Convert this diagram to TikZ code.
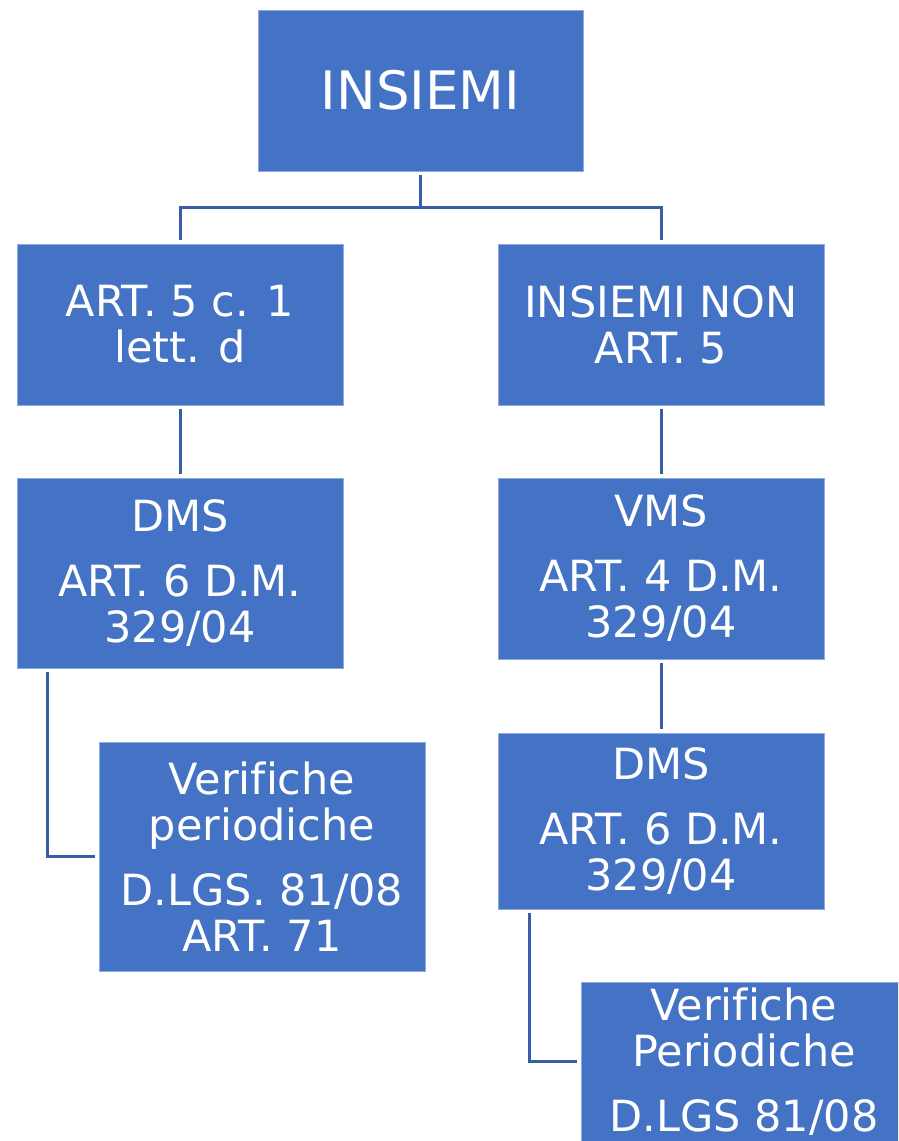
\documentclass[tikz,border=0pt]{standalone}
\usepackage{fontspec}
\setmainfont[Ligatures=NoCommon]{DejaVu Sans}
\definecolor{boxblue}{HTML}{4472C4}
\definecolor{edgeblue}{HTML}{8FAADC}
\definecolor{linkblue}{HTML}{3A5DA8}
\tikzset{
  box/.style={rectangle, fill=boxblue, draw=edgeblue, line width=0.8pt, text=white,
    align=center, inner sep=0pt, minimum width=326pt,
    font=\fontsize{43}{46}\selectfont},
  link/.style={draw=linkblue, line width=3pt}
}
\begin{document}
\begin{tikzpicture}[x=1pt,y=-1pt]
\clip (0,0) rectangle (898,1141);
\fill[white] (0,0) rectangle (898,1141);
\node[box, minimum width=325pt, minimum height=161pt, font=\fontsize{53}{58}\selectfont] (top) at (420.5,90.5) {INSIEMI};
\node[box, minimum height=161pt] (A) at (180,324.5) {ART. 5 c. 1\\lett. d};
\node[box, minimum height=161pt] (B) at (661,324.5) {INSIEMI NON\\ART. 5};
\node[box, minimum height=190pt] (C) at (180,573) {DMS\\[19pt]ART. 6 D.M.\\329/04};
\node[box, minimum height=181pt] (D) at (661,568.5) {VMS\\[19pt]ART. 4 D.M.\\329/04};
\node[box, minimum height=229pt] (E) at (262,856.5) {Verifiche\\periodiche\\[19pt]D.LGS. 81/08\\ART. 71};
\node[box, minimum height=176pt] (F) at (661,821) {DMS\\[19pt]ART. 6 D.M.\\329/04};
\node[box, minimum height=159pt] (G) at (744,1061.5) {Verifiche\\Periodiche\\[19pt]D.LGS 81/08};
\coordinate (hub) at (420.5,207);
\draw[link] ([yshift=-4pt]top.south) -- (hub);
\draw[link] (hub) -| ([yshift=4pt]A.north);
\draw[link] (hub) -| ([yshift=4pt]B.north);
\draw[link] ([yshift=-4pt]A.south) -- ([yshift=4pt]C.north);
\draw[link] ([yshift=-4pt]B.south) -- ([yshift=4pt]D.north);
\draw[link] ([yshift=-4pt]D.south) -- ([yshift=4pt]F.north);
\draw[link] ([xshift=31pt,yshift=-4pt]C.south west) |- ([xshift=-4pt]E.west);
\draw[link] ([xshift=32pt,yshift=-4pt]F.south west) |- ([xshift=-4pt]G.west);
\end{tikzpicture}
\end{document}
